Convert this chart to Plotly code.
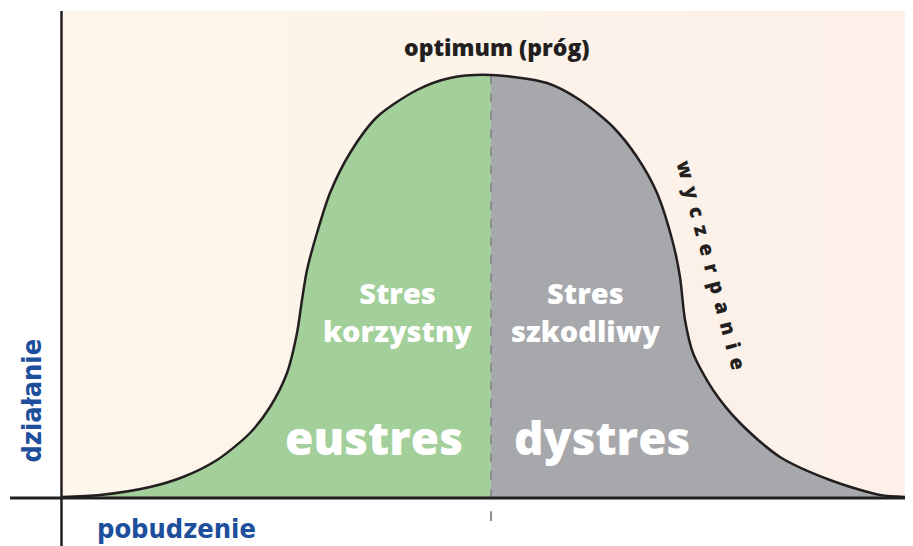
import plotly.graph_objects as go

# ---- data (arousal, performance) ----
left_arousal = [0, 38, 88, 121, 155, 188, 208, 225, 235, 240, 245, 255, 268, 288, 315, 355, 388, 429]
left_perf = [1, 3, 11, 21, 38, 65, 91, 125, 165, 198, 228, 265, 305, 345, 381, 408, 420, 423]
right_arousal = [429, 485, 518, 551, 575, 595, 611, 618, 623, 631, 651, 678, 718, 768, 818, 848]
right_perf = [423, 415, 398, 371, 341, 305, 255, 221, 178, 145, 108, 75, 41, 18, 3, 1]
optimum_x = 429
x_range = [0, 848]
y_range = [0, 487]

GREEN = "#a2cf9a"
GRAY = "#a7a8ac"
BLUE = "#1d4f9c"
DARK = "#231f20"
FONT = "'Open Sans', Lato, sans-serif"
NARROW = "'Liberation Sans Narrow', 'DejaVu Sans Condensed', 'Roboto', sans-serif"

fig = go.Figure()
fig.add_trace(go.Scatter(x=left_arousal, y=left_perf, mode="lines", fill="tozeroy",
                         fillcolor=GREEN, line=dict(color="rgba(0,0,0,0)", width=0, shape="spline", smoothing=0.8),
                         hoverinfo="skip"))
fig.add_trace(go.Scatter(x=right_arousal, y=right_perf, mode="lines", fill="tozeroy",
                         fillcolor=GRAY, line=dict(color="rgba(0,0,0,0)", width=0, shape="spline", smoothing=0.8),
                         hoverinfo="skip"))
# dashed optimum line
fig.add_trace(go.Scatter(x=[optimum_x, optimum_x], y=[0, 431], mode="lines",
                         line=dict(color="#8c8d90", width=2, dash="dash"), hoverinfo="skip"))
# outline of the curve
fig.add_trace(go.Scatter(x=left_arousal + right_arousal[1:], y=left_perf + right_perf[1:], mode="lines",
                         line=dict(color=DARK, width=2.5, shape="spline", smoothing=0.8), hoverinfo="skip"))

shapes = []
# background gradient
n = 30
c0 = (253, 246, 234)
c1 = (252, 240, 232)
for i in range(n):
    t = i / (n - 1)
    col = tuple(round(c0[k] + (c1[k] - c0[k]) * t) for k in range(3))
    shapes.append(dict(type="rect", xref="paper", yref="paper", x0=i / n, x1=(i + 1) / n + 0.002,
                       y0=0, y1=1, fillcolor="rgb(%d,%d,%d)" % col, line=dict(width=0), layer="below"))
# axes
shapes.append(dict(type="line", xref="paper", yref="paper", x0=-0.0613, x1=1.01, y0=0, y1=0,
                   line=dict(color=DARK, width=3), layer="above"))
shapes.append(dict(type="line", xref="paper", yref="paper", x0=-0.0006, x1=-0.0006, y0=-0.1, y1=1,
                   line=dict(color=DARK, width=2.5), layer="above"))
# small tick below the axis
px = optimum_x / x_range[1]
shapes.append(dict(type="line", xref="paper", yref="paper", x0=px, x1=px, y0=-0.027, y1=-0.047,
                   line=dict(color="#8c8d90", width=2), layer="above"))

ann = []
def A(text, x, y, size, color, xref="x", yref="y", angle=0, family=FONT, weight=800):
    ann.append(dict(text=text, x=x, y=y, xref=xref, yref=yref, showarrow=False, textangle=angle,
                    font=dict(size=size, color=color, family=family, weight=weight),
                    xanchor="center", yanchor="middle", align="center"))

SP = "\u00a0\u2009"
A("optimum (próg)", 435, 451, 23, DARK)
A("Stres<br>korzystny", 335, 187, 29, "white")
A("Stres<br>szkodliwy", 523, 187, 29, "white")
A("eustres", 312, 61, 46, "white")
A("dystres", 540, 61, 46, "white")
A(SP.join("wyczerpanie"), 650, 233, 20, DARK, angle=75)
A("działanie", -0.0354, 0.2, 27, BLUE, xref="paper", yref="paper", angle=-90, family=NARROW, weight=700)
A("pobudzenie", 0.1356, -0.063, 27, BLUE, xref="paper", yref="paper", family=NARROW, weight=700)

fig.update_layout(
    width=905, height=538,
    margin=dict(l=54, r=3, t=3, b=48),
    paper_bgcolor="white", plot_bgcolor="rgba(0,0,0,0)",
    showlegend=False,
    xaxis=dict(range=x_range, visible=False, fixedrange=True),
    yaxis=dict(range=y_range, visible=False, fixedrange=True),
    shapes=shapes, annotations=ann,
)
fig.write_html("out.html")
